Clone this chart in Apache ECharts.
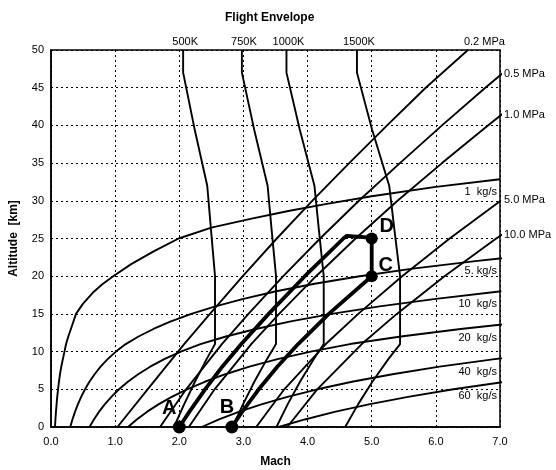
<!DOCTYPE html>
<html><head><meta charset="utf-8">
<script src="https://cdn.jsdelivr.net/npm/echarts@6/dist/echarts.min.js"></script>
<style>html,body{margin:0;padding:0;background:#fff}#c{width:556px;height:470px}</style>
</head><body><div id="c"></div>
<script>
// ---- tick labels ----
const machTicks = ['0.0','1.0','2.0','3.0','4.0','5.0','6.0','7.0'];
const altTicks = [0,5,10,15,20,25,30,35,40,45,50];

// ---- constant total-temperature lines [Mach, km] ----
const temp500  = [[1.917,0],[2.075,3],[2.244,6],[2.426,9],[2.557,11],[2.557,20],[2.496,26],[2.436,32],[2.239,39.5],[2.06,47],[2.06,50]];
const temp750  = [[2.831,0],[2.993,3],[3.170,6],[3.366,9],[3.508,11],[3.508,20],[3.441,26],[3.377,32],[3.166,39.5],[2.976,47],[2.976,50]];
const temp1000 = [[3.515,0],[3.689,3],[3.882,6],[4.095,9],[4.252,11],[4.252,20],[4.178,26],[4.107,32],[3.877,39.5],[3.671,47],[3.671,50]];
const temp1500 = [[4.586,0],[4.787,3],[5.010,6],[5.259,9],[5.442,11],[5.442,20],[5.356,26],[5.273,32],[5.004,39.5],[4.77,47],[4.77,50]];
const tempNames = ['500K','750K','1000K','1500K'];

// ---- constant total-pressure lines ----
const pres02  = [[1.036,0],[1.506,5],[2.076,11],[2.478,15],[2.990,20],[3.520,25],[4.072,30],[4.649,35],[5.240,40],[5.842,45],[6.50,50]];
const pres05  = [[1.700,0],[2.107,5],[2.664,11],[3.078,15],[3.621,20],[4.195,25],[4.800,30],[5.439,35],[6.096,40],[6.771,45],[7.469,50]];
const pres10  = [[2.149,0],[2.551,5],[3.122,11],[3.556,15],[4.132,20],[4.748,25],[5.402,30],[6.096,35],[6.812,40],[7.549,45]];
const pres50  = [[3.199,0],[3.637,5],[4.284,11],[4.790,15],[5.474,20],[6.215,25],[7.010,30]];
const pres100 = [[3.684,0],[4.150,5],[4.845,11],[5.391,15],[6.134,20],[6.941,25],[7.81,30]];
const presNames = ['0.2 MPa','0.5 MPa','1.0 MPa','5.0 MPa','10.0 MPa'];

// ---- constant mass-flow lines ----
const flow1  = [[0.062,0],[0.069,1],[0.077,2],[0.087,3],[0.097,4],[0.11,5],[0.124,6],[0.14,7],[0.16,8],[0.185,9],[0.21,10],[0.235,11],[0.27,12],[0.31,13],[0.35,14],[0.39,15],[0.5,16.36],[0.65,17.8],[0.8,18.94],[0.97,20],[1.25,21.6],[1.6,23.3],[1.99,25.0],[2.5,26.45],[3.11,27.6],[3.7,28.65],[4.3,29.6],[5.0,30.6],[6.0,31.85],[7.0,32.85]];
const flow5  = [[0.30,0],[0.334,1],[0.374,2],[0.419,3],[0.47,4],[0.53,5],[0.599,6],[0.68,7],[0.773,8],[0.883,9],[1.012,10],[1.165,11],[1.364,12],[1.597,13],[1.869,14],[2.188,15],[2.562,16],[3.0,17],[3.511,18],[4.11,19],[4.811,20],[5.64,21],[6.615,22],[7.7,23]];
const flow10 = [[0.6,0],[0.669,1],[0.747,2],[0.837,3],[0.941,4],[1.06,5],[1.198,6],[1.359,7],[1.546,8],[1.766,9],[2.024,10],[2.33,11],[2.727,12],[3.193,13],[3.738,14],[4.376,15],[5.124,16],[6.0,17],[7.02,18]];
const flow20 = [[1.2,0],[1.337,1],[1.495,2],[1.675,3],[1.881,4],[2.121,5],[2.397,6],[2.718,7],[3.093,8],[3.531,9],[4.049,10],[4.66,11],[5.455,12],[6.386,13],[7.47,14]];
const flow40 = [[2.35,0],[2.619,1],[2.927,2],[3.279,3],[3.685,4],[4.153,5],[4.693,6],[5.323,7],[6.057,8],[6.916,9],[7.9,10]];
const flow60 = [[3.55,0],[3.957,1],[4.421,2],[4.954,3],[5.566,4],[6.273,5],[7.09,6]];
const flowNames = ['1  kg/s','5. kg/s','10  kg/s','20  kg/s','40  kg/s','60  kg/s'];

// ---- trajectories ----
const pathAD = [[2.0,0],[2.156,2],[2.402,5],[2.670,8],[2.967,11],[3.393,15],[3.957,20],[4.558,25],[4.61,25.35],[5.0,25.1]];
const pathBC = [[2.82,0],[2.979,2],[3.239,5],[3.528,8],[3.853,11],[4.331,15],[5.0,20]];
const pathCD = [[5.0,20],[5.0,25]];
const pointNames = ['A','B','C','D'];
const pointsABCD = [[2.0,0],[2.82,0],[5.0,20],[5.0,25]];

const FONT = '"Liberation Sans", Arial, sans-serif';
const chart = echarts.init(document.getElementById('c'), null, {renderer:'canvas'});

function thin(data){ return {type:'line', data, symbol:'none', showSymbol:false, clip:true, silent:true, z:2,
  lineStyle:{color:'#000', width:1.9}, animation:false}; }
function thick(data){ return {type:'line', data, symbol:'none', showSymbol:false, clip:true, silent:true, z:3,
  lineStyle:{color:'#000', width:3.8}, animation:false}; }

const tempSeries = [temp500, temp750, temp1000, temp1500];
const presSeries = [pres02, pres05, pres10, pres50, pres100];
const flowSeries = [flow1, flow5, flow10, flow20, flow40, flow60];

const labelOffsets = [[-10,-19],[-5,-20],[14,-11],[15,-12]];
const dotSizes = [13,13,12,12];

const series = [];
tempSeries.forEach(d=>series.push(thin(d)));
presSeries.forEach(d=>series.push(thin(d)));
flowSeries.forEach(d=>series.push(thin(d)));
series.push(thick(pathAD), thick(pathBC), thick(pathCD));
series.push({type:'scatter', clip:false, z:5, silent:true, animation:false,
  data: pointsABCD.map((p,i)=>({value:p, name:pointNames[i], symbolSize:dotSizes[i]})),
  itemStyle:{color:'#000', opacity:1}, symbol:'circle'});

const option = {
  animation:false,
  backgroundColor:'#fff',
  textStyle:{fontFamily:FONT},
  title:{text:'Flight Envelope', left:225, top:12, padding:0,
    textStyle:{fontSize:12, fontWeight:'bold', color:'#000', fontFamily:FONT}},
  grid:{left:51, right:56, top:50, bottom:43, show:true, borderColor:'#000', borderWidth:1.5,
    backgroundColor:'transparent', containLabel:false, outerBoundsMode:'none'},
  xAxis:{type:'value', min:0, max:7, interval:1,
    name:'Mach', nameLocation:'middle', nameGap:29,
    nameTextStyle:{fontSize:12, fontWeight:'bold', color:'#000', fontFamily:FONT},
    axisLine:{show:true, lineStyle:{color:'#000', width:1.5}},
    axisTick:{show:false},
    axisLabel:{color:'#000', fontSize:11, margin:9, fontFamily:FONT, formatter:(v)=>machTicks[Math.round(v)]},
    splitLine:{show:true, lineStyle:{color:'#000', width:1, type:[2,3]}}},
  yAxis:{type:'value', min:0, max:50, interval:5,
    name:'Altitude  [km]', nameLocation:'middle', nameGap:31, nameRotate:90,
    nameTextStyle:{fontSize:12, fontWeight:'bold', color:'#000', fontFamily:FONT},
    axisLine:{show:true, lineStyle:{color:'#000', width:1.5}},
    axisTick:{show:false},
    axisLabel:{color:'#000', fontSize:11, margin:7, fontFamily:FONT,
      formatter:(v)=> altTicks.indexOf(v) >= 0 ? String(v) : ''},
    splitLine:{show:true, lineStyle:{color:'#000', width:1, type:[2,3]}}},
  series
};
chart.setOption(option);

// helpers to read line positions from the data
function altAtMach(d, m){
  for(let i=1;i<d.length;i++){
    const a=d[i-1], b=d[i];
    if((a[0]-m)*(b[0]-m) <= 0 && a[0]!==b[0]){ const t=(m-a[0])/(b[0]-a[0]); return a[1]+t*(b[1]-a[1]); }
  }
  return d[d.length-1][1];
}
function machAtAlt(d, h){
  for(let i=1;i<d.length;i++){
    const a=d[i-1], b=d[i];
    if((a[1]-h)*(b[1]-h) <= 0 && a[1]!==b[1]){ const t=(h-a[1])/(b[1]-a[1]); return a[0]+t*(b[0]-a[0]); }
  }
  return d[d.length-1][0];
}
const px = (m,h)=>chart.convertToPixel({gridIndex:0},[m,h]);
const txt = (text,x,y,align,font)=>({type:'text', silent:true, z:10,
  style:{text, x, y, fill:'#000', font:font||('11px '+FONT), textAlign:align, textVerticalAlign:'middle'}});

const graphics = [];
tempSeries.forEach((d,i)=>{ const p=px(machAtAlt(d,50),50); graphics.push(txt(tempNames[i], p[0]+2, p[1]-8, 'center')); });
{ const p=px(machAtAlt(pres02,50),50); graphics.push(txt(presNames[0], p[0]-4, p[1]-8, 'left')); }
presSeries.slice(1).forEach((d,i)=>{ const p=px(7,altAtMach(d,7)); graphics.push(txt(presNames[i+1], p[0]+4, p[1]-1, 'left')); });
flowSeries.forEach((d,i)=>{ const p=px(7,altAtMach(d,7)); graphics.push(txt(flowNames[i], p[0]-3, p[1]+13, 'right')); });
pointsABCD.forEach((pt,i)=>{ const p=px(pt[0],pt[1]);
  graphics.push(txt(pointNames[i], p[0]+labelOffsets[i][0], p[1]+labelOffsets[i][1], 'center', 'bold 20px '+FONT)); });
chart.setOption({graphic:graphics});
</script>
</body></html>
